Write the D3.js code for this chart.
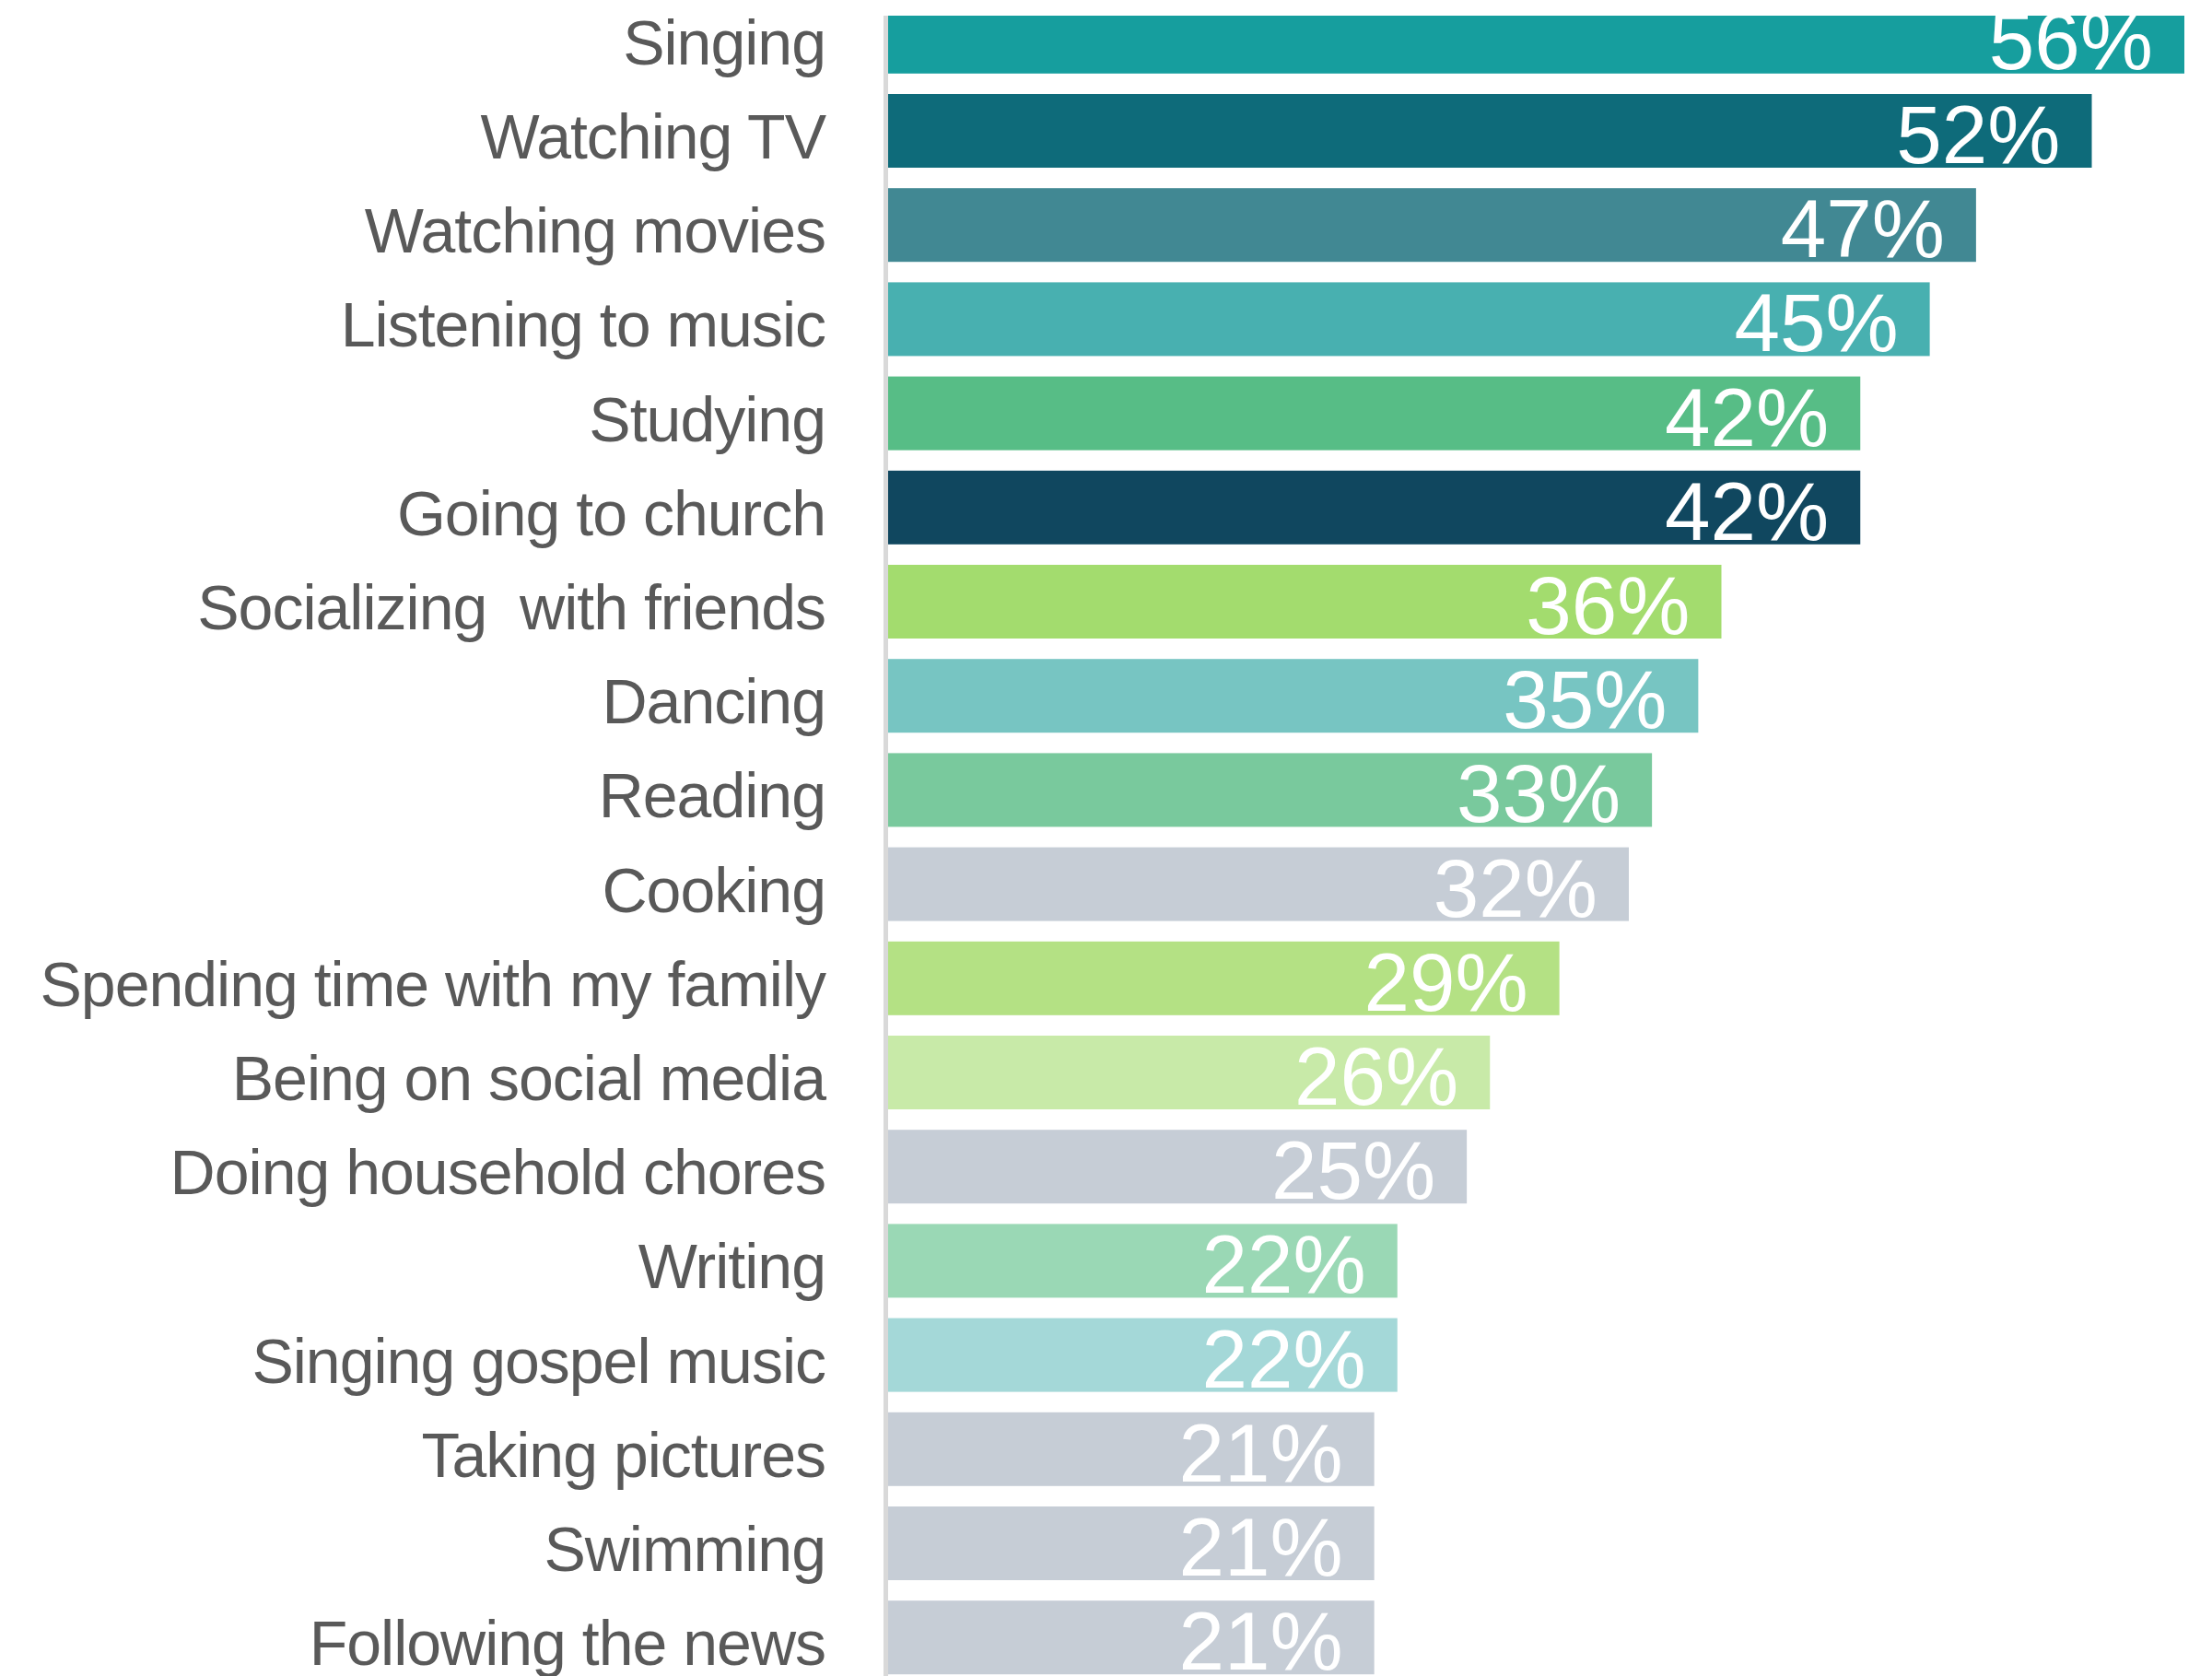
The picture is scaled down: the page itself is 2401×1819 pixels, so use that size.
<!DOCTYPE html>
<html>
<head>
<meta charset="utf-8">
<script src="https://cdn.jsdelivr.net/npm/d3@7"></script>
<style>
  html, body { margin: 0; padding: 0; background: #ffffff; }
  svg { display: block; }
</style>
</head>
<body>
<div id="chart"></div>
<script>
const categories = [
  "Singing", "Watching TV", "Watching movies", "Listening to music", "Studying",
  "Going to church", "Socializing  with friends", "Dancing", "Reading", "Cooking",
  "Spending time with my family", "Being on social media", "Doing household chores",
  "Writing", "Singing gospel music", "Taking pictures", "Swimming", "Following the news"
];
const values = [56, 52, 47, 45, 42, 42, 36, 35, 33, 32, 29, 26, 25, 22, 22, 21, 21, 21];
const colors = [
  "#169e9e", "#0e6b7a", "#418893", "#48b0b0", "#57bd86",
  "#10475f", "#a3dc6e", "#77c5c2", "#79c99d", "#c6cdd6",
  "#b4e184", "#c8eaa8", "#c6cdd6", "#9ad8b5", "#a4d8d8",
  "#c6cdd6", "#c6cdd6", "#c6cdd6"
];

const W = 2401, H = 1819;
const svg = d3.select("#chart").append("svg")
  .attr("width", W).attr("height", H);

const x = d3.scaleLinear().domain([0, 56]).range([964, 2371]);
const y = d3.scaleBand().domain(categories).range([-0.2, 1817.2])
  .paddingInner(0.2172).paddingOuter(0);

svg.append("defs").append("clipPath").attr("id", "plotclip")
  .append("rect").attr("x", 0).attr("y", 17).attr("width", W).attr("height", H - 17);

const plot = svg.append("g").attr("clip-path", "url(#plotclip)");

// axis line
plot.append("line")
  .attr("x1", x(0) - 2.5).attr("x2", x(0) - 2.5)
  .attr("y1", 0).attr("y2", H)
  .attr("stroke", "#d9d9d9").attr("stroke-width", 5);

const data = categories.map((c, i) => ({ c, v: values[i], col: colors[i] }));

plot.selectAll("rect.bar").data(data).join("rect")
  .attr("class", "bar")
  .attr("x", x(0))
  .attr("y", d => y(d.c))
  .attr("width", d => x(d.v) - x(0))
  .attr("height", y.bandwidth())
  .attr("fill", d => d.col);

plot.selectAll("text.val").data(data).join("text")
  .attr("class", "val")
  .attr("x", d => x(d.v) - 34)
  .attr("y", d => y(d.c) + y.bandwidth() - 5)
  .attr("text-anchor", "end")
  .attr("font-family", "'Liberation Sans', Arial, sans-serif")
  .attr("font-size", 89)
  .attr("fill", "#ffffff")
  .text(d => d.v + "%");

svg.selectAll("text.cat").data(data).join("text")
  .attr("class", "cat")
  .attr("x", 896)
  .attr("y", d => y(d.c) + y.bandwidth() - 10)
  .attr("text-anchor", "end")
  .attr("font-family", "'Liberation Sans', Arial, sans-serif")
  .attr("font-size", 68)
  .attr("letter-spacing", -1)
  .attr("fill", "#595959")
  .attr("xml:space", "preserve")
  .style("white-space", "pre")
  .text(d => d.c);
</script>
</body>
</html>
